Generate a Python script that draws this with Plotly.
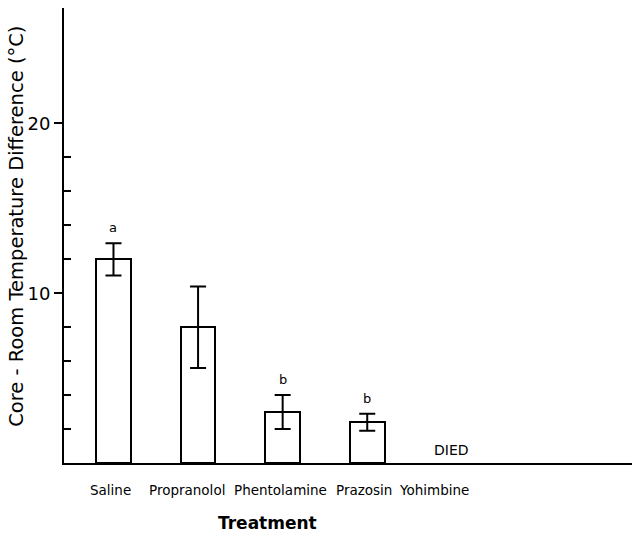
import plotly.graph_objects as go

# Treatment groups and core-room temperature difference (°C)
treatments = ["Saline", "Propranolol", "Phentolamine", "Prazosin", "Yohimbine"]
means = [12.0, 8.0, 3.0, 2.4, None]
sems = [0.95, 2.4, 1.0, 0.5, None]
sig_letters = ["a", "", "b", "b", ""]
outcome_notes = ["", "", "", "", "DIED"]

# horizontal nudges (px) for the category labels written under the axis
label_shift = [-3, -11, -2, -3, -18]

FONT = "DejaVu Sans"

fig = go.Figure()
fig.add_trace(go.Bar(
    x=treatments,
    y=means,
    width=0.41,
    marker=dict(color="white", line=dict(color="black", width=2)),
    error_y=dict(type="data", array=sems, visible=True,
                 color="black", thickness=2, width=8),
    showlegend=False,
))

annotations = []
for t, m, s, lab in zip(treatments, means, sems, sig_letters):
    if lab and m is not None:
        annotations.append(dict(x=t, y=m + s, text=lab, showarrow=False,
                                xanchor="center", yanchor="bottom", yshift=6,
                                font=dict(family=FONT, size=13, color="black")))
for t, note in zip(treatments, outcome_notes):
    if note:
        annotations.append(dict(x=t, y=0, text=note, showarrow=False,
                                xanchor="center", yanchor="bottom", yshift=3,
                                font=dict(family=FONT, size=14, color="black")))
for t, dx in zip(treatments, label_shift):
    annotations.append(dict(x=t, y=0, yref="y", text=t, showarrow=False,
                            xanchor="center", yanchor="middle", yshift=-27, xshift=dx,
                            font=dict(family=FONT, size=13.5, color="black")))
# x-axis title
annotations.append(dict(x=0.359, xref="paper", y=0, yref="y", text="<b>Treatment</b>",
                        showarrow=False, xanchor="center", yanchor="middle", yshift=-60,
                        font=dict(family=FONT, size=17, color="black")))
# y-axis title, rotated
annotations.append(dict(x=0, xref="paper", y=0.519, yref="paper",
                        text="Core - Room Temperature Difference (°C)",
                        textangle=-90, showarrow=False,
                        xanchor="center", yanchor="middle", xshift=-47,
                        font=dict(family=FONT, size=19.5, color="black")))

fig.update_layout(
    width=632, height=538,
    margin=dict(l=64, r=0, t=8, b=75),
    paper_bgcolor="white", plot_bgcolor="white",
    font=dict(family=FONT, color="black"),
    bargap=0,
    annotations=annotations,
    xaxis=dict(
        type="category",
        range=[-0.585, 6.13],
        showticklabels=False, ticks="",
        showline=True, linecolor="black", linewidth=2,
        showgrid=False, zeroline=False,
    ),
    yaxis=dict(
        range=[0, 26.8],
        tickmode="array", tickvals=[10, 20], ticktext=["10", "20"],
        ticks="outside", ticklen=8, tickwidth=2, tickcolor="black",
        tickfont=dict(family=FONT, size=18, color="black"),
        minor=dict(tickmode="array", tickvals=[2, 4, 6, 8, 12, 14, 16, 18],
                   ticks="inside", ticklen=7, tickwidth=2, tickcolor="black",
                   showgrid=False),
        showline=True, linecolor="black", linewidth=2,
        showgrid=False, zeroline=False,
    ),
)

fig.write_html("out.html")
